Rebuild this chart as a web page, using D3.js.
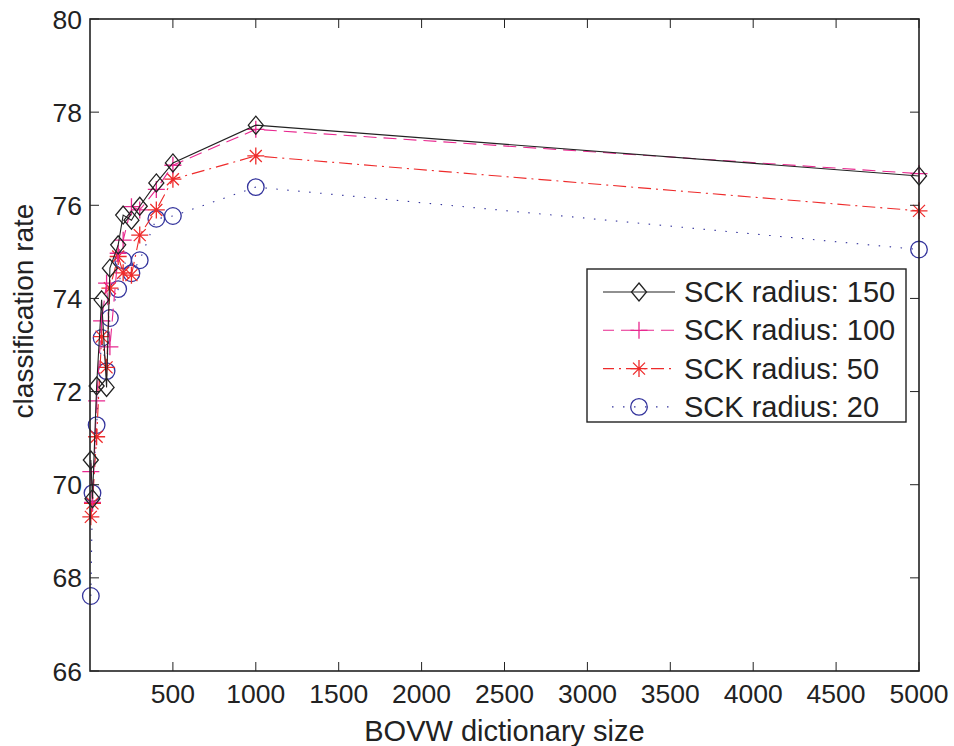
<!DOCTYPE html>
<html>
<head>
<meta charset="utf-8">
<script src="https://cdn.jsdelivr.net/npm/d3@7"></script>
<style>
  body { margin: 0; background: #fff; }
  text { font-family: "Liberation Sans", Arial, sans-serif; fill: #222; }
</style>
</head>
<body>
<div id="chart"></div>
<script>
// dictionary sizes and classification rates
const dictSizes = [5, 15, 40, 70, 100, 120, 170, 200, 250, 300, 400, 500, 1000, 5000];
const rate150 = [70.53, 69.70, 72.12, 73.97, 72.09, 74.65, 75.15, 75.79, 75.68, 75.98, 76.48, 76.91, 77.72, 76.63];
const rate100 = [70.28, 69.62, 71.80, 73.52, 74.33, 72.96, 74.97, 75.25, 75.97, 75.90, 76.34, 76.86, 77.63, 76.68];
const rate50  = [69.31, 69.60, 71.03, 73.18, 72.52, 74.22, 74.90, 74.55, 74.50, 75.36, 75.90, 76.56, 77.06, 75.88];
const rate20  = [67.61, 69.82, 71.28, 73.15, 72.44, 73.58, 74.20, 74.82, 74.54, 74.82, 75.71, 75.77, 76.39, 75.05];
const seriesNames = ['SCK radius: 150', 'SCK radius: 100', 'SCK radius: 50', 'SCK radius: 20'];
const xTicks = [500, 1000, 1500, 2000, 2500, 3000, 3500, 4000, 4500, 5000];
const yTicks = [66, 68, 70, 72, 74, 76, 78, 80];

const styles = [
  { color: '#222222', dash: null, marker: 'diamond' },
  { color: '#e8288f', dash: '13,7', marker: 'plus' },
  { color: '#ee2b2b', dash: '13,5,2,5', marker: 'star' },
  { color: '#33339c', dash: '1.5,9.5', marker: 'circle' }
];

const W = 954, H = 746;
const margin = { left: 90, right: 35, top: 19, bottom: 75 };

const svg = d3.select('#chart').append('svg')
  .attr('width', W)
  .attr('height', H);

const x = d3.scaleLinear().domain([0, 5000]).range([margin.left, W - margin.right]);
const y = d3.scaleLinear().domain([66, 80]).range([H - margin.bottom, margin.top]);

const allSeries = [rate150, rate100, rate50, rate20].map((vals, i) => ({
  name: seriesNames[i],
  style: styles[i],
  points: dictSizes.map((d, j) => ({ x: d, y: vals[j] }))
}));

// marker drawing
function drawMarker(g, type, color) {
  if (type === 'diamond') {
    g.append('path').attr('d', 'M0,-9L7.5,0L0,9L-7.5,0Z')
      .attr('fill', 'none').attr('stroke', color).attr('stroke-width', 1.3);
  } else if (type === 'plus') {
    g.append('path').attr('d', 'M-8.5,0H8.5M0,-8.5V8.5')
      .attr('stroke', color).attr('stroke-width', 1.3);
  } else if (type === 'star') {
    g.append('path').attr('d', 'M-8.5,0H8.5M0,-8.5V8.5M-6,-6L6,6M-6,6L6,-6')
      .attr('stroke', color).attr('stroke-width', 1.3);
  } else {
    g.append('circle').attr('r', 8.3)
      .attr('fill', 'none').attr('stroke', color).attr('stroke-width', 1.3);
  }
}

const line = d3.line().x(d => x(d.x)).y(d => y(d.y));

// draw in reverse so the black series stays on top
allSeries.slice().reverse().forEach(s => {
  svg.append('path')
    .datum(s.points)
    .attr('d', line)
    .attr('fill', 'none')
    .attr('stroke', s.style.color)
    .attr('stroke-width', 1.1)
    .attr('stroke-dasharray', s.style.dash);
  s.points.forEach(p => {
    const g = svg.append('g').attr('transform', `translate(${x(p.x)},${y(p.y)})`);
    drawMarker(g, s.style.marker, s.style.color);
  });
});

// axes box and ticks
const axisColor = '#222';
svg.append('rect')
  .attr('x', x(0)).attr('y', y(80))
  .attr('width', x(5000) - x(0)).attr('height', y(66) - y(80))
  .attr('fill', 'none').attr('stroke', axisColor).attr('stroke-width', 1.6);

const tickLen = 9;
xTicks.forEach(t => {
  svg.append('line').attr('x1', x(t)).attr('x2', x(t))
    .attr('y1', y(66)).attr('y2', y(66) - tickLen)
    .attr('stroke', axisColor).attr('stroke-width', 1);
  svg.append('line').attr('x1', x(t)).attr('x2', x(t))
    .attr('y1', y(80)).attr('y2', y(80) + tickLen)
    .attr('stroke', axisColor).attr('stroke-width', 1);
  svg.append('text').attr('x', x(t)).attr('y', y(66) + 32)
    .attr('text-anchor', 'middle').attr('font-size', 26.5).text(t);
});
yTicks.forEach(t => {
  svg.append('line').attr('x1', x(0)).attr('x2', x(0) + tickLen)
    .attr('y1', y(t)).attr('y2', y(t))
    .attr('stroke', axisColor).attr('stroke-width', 1);
  svg.append('line').attr('x1', x(5000)).attr('x2', x(5000) - tickLen)
    .attr('y1', y(t)).attr('y2', y(t))
    .attr('stroke', axisColor).attr('stroke-width', 1);
  svg.append('text').attr('x', x(0) - 8).attr('y', y(t) + 9.5)
    .attr('text-anchor', 'end').attr('font-size', 26.5).text(t);
});

// axis titles
svg.append('text')
  .attr('x', (x(0) + x(5000)) / 2).attr('y', H - 5)
  .attr('text-anchor', 'middle').attr('font-size', 29)
  .text('BOVW dictionary size');
svg.append('text')
  .attr('transform', `translate(33,311) rotate(-90)`)
  .attr('text-anchor', 'middle').attr('font-size', 28)
  .text('classification rate');

// legend
const legend = svg.append('g').attr('transform', 'translate(587,269)');
legend.append('rect')
  .attr('width', 319).attr('height', 153)
  .attr('fill', '#fff').attr('stroke', axisColor).attr('stroke-width', 1.4);
allSeries.forEach((s, i) => {
  const ly = 23 + i * 38.3;
  legend.append('line')
    .attr('x1', 16).attr('x2', 88).attr('y1', ly).attr('y2', ly)
    .attr('stroke', s.style.color).attr('stroke-width', 1.1)
    .attr('stroke-dasharray', s.style.dash)
    .attr('stroke-dashoffset', s.style.dash ? 2 : null);
  const g = legend.append('g').attr('transform', `translate(52,${ly})`);
  drawMarker(g, s.style.marker, s.style.color);
  legend.append('text').attr('x', 97).attr('y', ly + 10)
    .attr('font-size', 29).text(s.name);
});
</script>
</body>
</html>
